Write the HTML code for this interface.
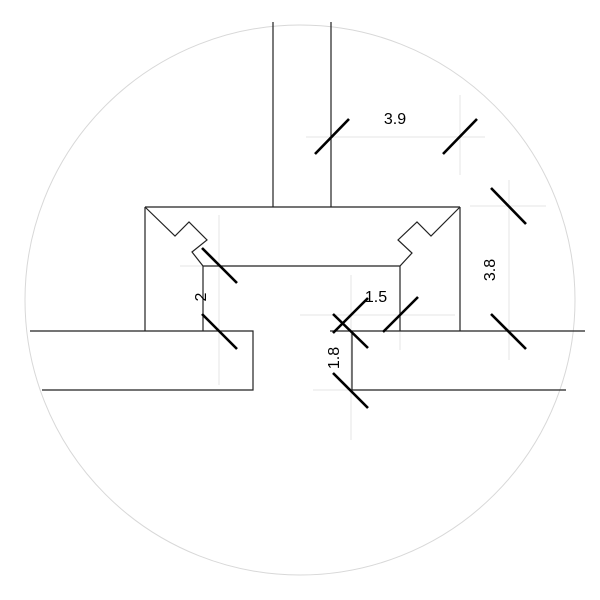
<!DOCTYPE html>
<html><head><meta charset="utf-8"><style>
html,body{margin:0;padding:0;background:#fff;}
svg{display:block;}
text{font-family:"Liberation Sans",sans-serif;font-size:16px;fill:#000;}
</style></head><body>
<svg width="600" height="600" viewBox="0 0 600 600" xmlns="http://www.w3.org/2000/svg">
<rect width="600" height="600" fill="#fff"/>
<circle cx="300" cy="300" r="275" fill="none" stroke="#d8d8d8" stroke-width="1"/>
<g stroke="#e4e4e4" stroke-width="1">
<line x1="306" y1="137" x2="485" y2="137"/>
<line x1="460" y1="95" x2="460" y2="175"/>
<line x1="470" y1="206" x2="546" y2="206"/>
<line x1="509" y1="180" x2="509" y2="360"/>
<line x1="180" y1="266" x2="203" y2="266"/>
<line x1="219" y1="215" x2="219" y2="385"/>
<line x1="300" y1="315" x2="455" y2="315"/>
<line x1="351" y1="275" x2="351" y2="440"/>
<line x1="313" y1="390" x2="352" y2="390"/>
<line x1="400" y1="331" x2="400" y2="350"/>
</g>
<g stroke="#222" stroke-width="1.2" fill="none">
<polyline points="273,22 273,207"/>
<polyline points="331,22 331,207"/>
<line x1="145" y1="207" x2="460" y2="207"/>
<line x1="145" y1="207" x2="145" y2="331"/>
<line x1="460" y1="207" x2="460" y2="331"/>
<polyline points="145,207 175,236 189,222 207,240 192,252 203,266 400,266 412,253 398,240 417,222 431,236 460,207"/>
<line x1="203" y1="266" x2="203" y2="331"/>
<line x1="400" y1="266" x2="400" y2="331"/>
<polyline points="30,331 253,331 253,390 42,390"/>
<line x1="330" y1="331" x2="585" y2="331"/>
<polyline points="352,331 352,390 566,390"/>
</g>
<g stroke="#000" stroke-width="2.6" stroke-linecap="butt">
<line x1="315" y1="154" x2="349" y2="119"/>
<line x1="443" y1="154" x2="477" y2="119"/>
<line x1="491" y1="188" x2="526" y2="224"/>
<line x1="202" y1="248" x2="237" y2="283"/>
<line x1="202" y1="314" x2="237" y2="349"/>
<line x1="333" y1="314" x2="368" y2="348"/>
<line x1="333" y1="333" x2="368" y2="298"/>
<line x1="383" y1="332" x2="418" y2="297"/>
<line x1="491" y1="314" x2="526" y2="349"/>
<line x1="333" y1="373" x2="368" y2="408"/>
</g>
<text x="395" y="124" text-anchor="middle">3.9</text>
<text x="376" y="302" text-anchor="middle">1.5</text>
<text transform="translate(495,270) rotate(-90)" text-anchor="middle">3.8</text>
<text transform="translate(206,297) rotate(-90)" text-anchor="middle">2</text>
<text transform="translate(339,358) rotate(-90)" text-anchor="middle">1.8</text>
</svg>
</body></html>
